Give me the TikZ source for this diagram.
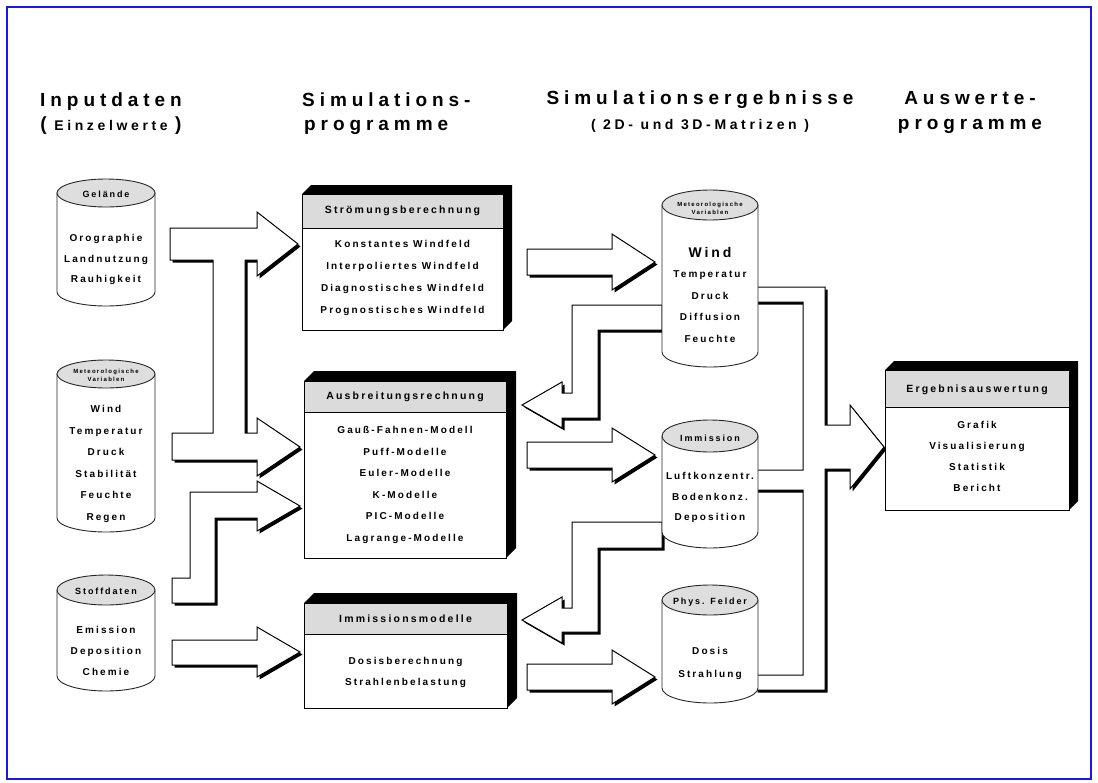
\documentclass[tikz,border=0pt]{standalone}
\usepackage{fontspec}
\setmainfont{Liberation Sans}
\newfontfamily\hdfont[LetterSpace=26]{Liberation Sans}
\newfontfamily\bdfont[LetterSpace=21]{Liberation Sans}
\definecolor{hdgray}{gray}{0.86}
\definecolor{elgray}{gray}{0.87}
\definecolor{frameblue}{RGB}{25,25,230}
% cylinder: xl, xr, y of top ellipse centre, y of bottom arc centre, ry
\newcommand\mycyl[5]{%
  \pgfmathsetmacro\cx{(#1+#2)/2}%
  \pgfmathsetmacro\rx{(#2-#1)/2}%
  \pgfmathsetmacro\kx{0.5523*\rx}%
  \pgfmathsetmacro\ky{0.5523*#5}%
  \pgfmathsetmacro\yl{#4+#5}%
  \path[cylbody] (#1,#3) -- (#1,#4) .. controls (#1,#4+\ky) and (\cx-\kx,\yl) .. (\cx,\yl)
     .. controls (\cx+\kx,\yl) and (#2,#4+\ky) .. (#2,#4) -- (#2,#3) -- cycle;
  \draw[cyltop] (\cx,#3) ellipse [x radius=\rx, y radius=#5];
}
% 3d box: x1, y1, x2, y2, y of header bottom, depth
\newcommand\mybox[6]{%
  \fill[black] (#1,#2) -- (#1+#6,#2-#6) -- (#3+#6,#2-#6) -- (#3+#6,#4-#6) -- (#3,#4) -- (#3,#2) -- cycle;
  \draw[boxline, fill=white] (#1,#2) rectangle (#3,#4);
  \draw[boxline, fill=hdgray] (#1,#2) rectangle (#3,#5);
}
% block arrow with shadow
\newcommand\blk[1]{%
  \fill[black, shift={(2.5,2.5)}] #1;
  \draw[arrline, fill=white] #1;
}
\begin{document}
\begin{tikzpicture}[x=1pt,y=-1pt,
  hd/.style={font=\hdfont\bfseries\fontsize{19}{22}\selectfont, inner sep=0},
  sub/.style={font=\hdfont\bfseries\fontsize{14}{16}\selectfont, inner sep=0},
  ttl/.style={font=\bdfont\bfseries\fontsize{10.5}{12}\selectfont, inner sep=0},
  bd/.style={font=\bdfont\bfseries\fontsize{10}{#1}\selectfont, align=center, inner sep=0},
  bd/.default=21.5,
  elt/.style={font=\bdfont\bfseries\fontsize{9}{10}\selectfont, inner sep=0},
  tinyt/.style={font=\bdfont\bfseries\fontsize{6}{8.5}\selectfont, align=center, inner sep=0},
  windt/.style={font=\bdfont\bfseries\fontsize{14}{16}\selectfont, inner sep=0},
  cylbody/.style={draw=black!85, fill=white, line width=0.9pt},
  cyltop/.style={draw=black!85, fill=elgray, line width=0.9pt},
  boxline/.style={draw=black, line width=1pt},
  arrline/.style={draw=black, line width=1pt, line join=miter}]
\useasboundingbox (0,0) rectangle (1098,782);
\fill[white] (0,0) rectangle (1098,782);
\draw[frameblue, line width=2pt] (7,7) rectangle (1091,779);

% headings
\node[hd, anchor=base] (h1) at (111,106) {Inputdaten};
\node[sub, anchor=base] (h1s) at (111,130) {{\fontsize{19}{22}\selectfont(} Einzelwerte {\fontsize{19}{22}\selectfont)}};
\node[hd, anchor=base west] (h2) at (302,106) {Simulations-};
\node[hd, anchor=base west] (h2s) at (304,130) {programme};
\node[hd, anchor=base] (h3) at (700,104) {Simulationsergebnisse};
\node[sub, anchor=base] (h3s) at (700,129) {( 2D- und 3D-Matrizen )};
\node[hd, anchor=base] (h4) at (970,104) {Auswerte-};
\node[hd, anchor=base] (h4s) at (970,129) {programme};

% block arrows (drawn before the shapes)
\blk{(170,228) -- (257,228) -- (257,212) -- (298,244) -- (257,276) -- (257,260) -- (245,260) -- (245,433) -- (257,433) -- (257,418) -- (300,447) -- (257,476) -- (257,460) -- (172,460) -- (172,433) -- (213,433) -- (213,260) -- (170,260) -- cycle}
\blk{(172,578) -- (190,578) -- (190,492) -- (257,492) -- (257,481) -- (300,506) -- (257,531) -- (257,518) -- (215,518) -- (215,603) -- (172,603) -- cycle}
\blk{(172,640) -- (257,640) -- (257,627) -- (300,652) -- (257,677) -- (257,665) -- (172,665) -- cycle}
\blk{(527,249) -- (612,249) -- (612,234) -- (655,262) -- (612,290) -- (612,275) -- (527,275) -- cycle}
\blk{(527,442) -- (612,442) -- (612,428) -- (655,455) -- (612,482) -- (612,468) -- (527,468) -- cycle}
\blk{(527,664) -- (612,664) -- (612,650) -- (655,677) -- (612,704) -- (612,690) -- (527,690) -- cycle}
\blk{(662,305) -- (572,305) -- (572,393) -- (562,393) -- (562,382) -- (522,405) -- (562,428) -- (562,418) -- (598,418) -- (598,330) -- (662,330) -- cycle}
\blk{(662,522) -- (572,522) -- (572,608) -- (562,608) -- (562,597) -- (522,620) -- (562,643) -- (562,632) -- (598,632) -- (598,548) -- (662,548) -- cycle}
\blk{(755,287) -- (825,287) -- (825,425) -- (850,425) -- (850,405) -- (884,447) -- (850,489) -- (850,469) -- (825,469) -- (825,690) -- (755,690) -- (755,675) -- (803,675) -- (803,490) -- (755,490) -- (755,470) -- (803,470) -- (803,302) -- (755,302) -- cycle}

% left cylinders
\mycyl{57}{155}{193}{292}{14}
\node[elt] (gelH) at (106,194) {Gelände};
\node[bd=20.5] (gelB) at (106,259.5) {Orographie\\Landnutzung\\Rauhigkeit};

\mycyl{57}{155}{374}{518}{14}
\node[tinyt] (metH) at (106,375.5) {Meteorologische\\Variablen};
\node[bd=21.6] (metB) at (106,464) {Wind\\Temperatur\\Druck\\Stabilität\\Feuchte\\Regen};

\mycyl{57}{155}{590}{676}{15}
\node[elt] (stH) at (106,591) {Stoffdaten};
\node[bd=21] (stB) at (106,651) {Emission\\Deposition\\Chemie};

% right cylinders
\mycyl{662}{758}{205}{352}{15}
\node[tinyt] (rmH) at (710,208.5) {Meteorologische\\Variablen};
\node[windt] (rmW) at (710,252) {Wind};
\node[bd=21.7] (rmB) at (710,306.5) {Temperatur\\Druck\\Diffusion\\Feuchte};

\mycyl{662}{758}{436}{532}{16}
\node[elt] (imH) at (710,438) {Immission};
\node[bd=20.5] (imB) at (710,497.5) {Luftkonzentr.\\Bodenkonz.\\Deposition};

\mycyl{662}{758}{600}{688}{15}
\node[elt] (phH) at (710,602) {Phys. Felder};
\node[bd=23] (phB) at (710,663.5) {Dosis\\Strahlung};

% program boxes
\mybox{302}{194}{503}{330}{228}{9}
\node[ttl] (stroemT) at (402.5,211) {Strömungsberechnung};
\node[bd=22] (stroemB) at (402.5,278) {Konstantes Windfeld\\Interpoliertes Windfeld\\Diagnostisches Windfeld\\Prognostisches Windfeld};

\mybox{304}{381}{506}{558}{412}{10}
\node[ttl] (ausbT) at (405,397) {Ausbreitungsrechnung};
\node[bd=21.6] (ausbB) at (405,485) {Gauß-Fahnen-Modell\\Puff-Modelle\\Euler-Modelle\\K-Modelle\\PIC-Modelle\\Lagrange-Modelle};

\mybox{304}{603}{507}{708}{634}{10}
\node[ttl] (immT) at (405.5,619) {Immissionsmodelle};
\node[bd=21] (immB) at (405.5,672.5) {Dosisberechnung\\Strahlenbelastung};

\mybox{885}{370}{1069}{510}{407}{9}
\node[ttl] (ergT) at (977,390) {Ergebnisauswertung};
\node[bd=21] (ergB) at (977,456.5) {Grafik\\Visualisierung\\Statistik\\Bericht};
\end{tikzpicture}
\end{document}
